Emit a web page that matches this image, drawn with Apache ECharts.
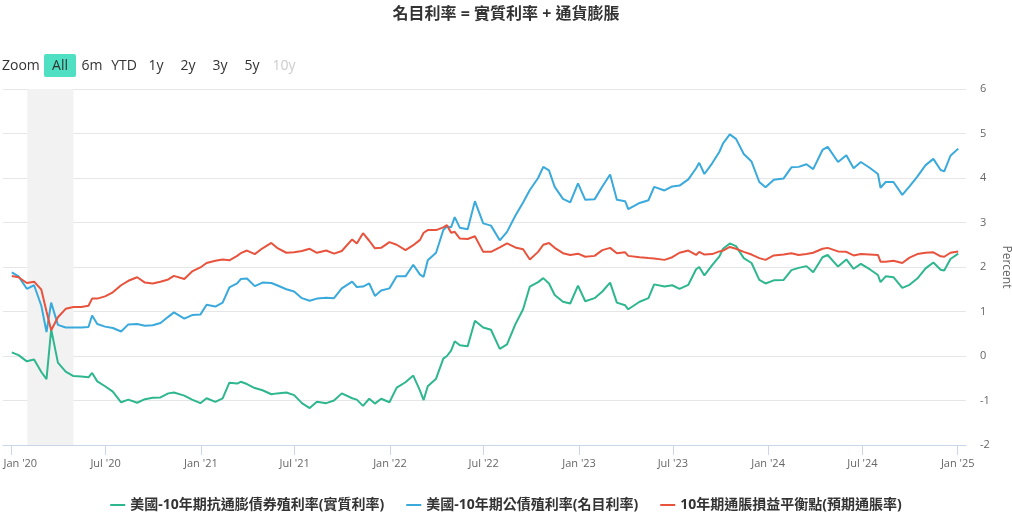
<!DOCTYPE html>
<html>
<head>
<meta charset="utf-8">
<script src="https://cdn.jsdelivr.net/npm/echarts@6/dist/echarts.min.js"></script>
<style>
html,body{margin:0;padding:0;background:#fff;}
#chart{width:1012px;height:519px;}
</style>
</head>
<body>
<div id="chart"></div>
<script>
// ---------- DATA ----------
const chartTitle = '名目利率 = 實質利率 + 通貨膨脹';
const seriesNames = ['美國-10年期抗通膨債券殖利率(實質利率)', '美國-10年期公債殖利率(名目利率)', '10年期通脹損益平衡點(預期通脹率)'];

const dates2020 = ['2020-01-02','2020-01-15','2020-01-31','2020-02-14','2020-02-28','2020-03-09','2020-03-18','2020-03-31','2020-04-15','2020-04-30','2020-05-15','2020-05-29','2020-06-05','2020-06-15','2020-06-30','2020-07-15','2020-07-31','2020-08-14','2020-08-31','2020-09-15','2020-09-30','2020-10-15','2020-10-30','2020-11-10','2020-11-30','2020-12-15','2020-12-31'];
const dates2021 = ['2021-01-12','2021-01-29','2021-02-12','2021-02-25','2021-03-12','2021-03-19','2021-03-31','2021-04-15','2021-04-30','2021-05-17','2021-05-28','2021-06-15','2021-06-30','2021-07-15','2021-07-30','2021-08-13','2021-08-31','2021-09-15','2021-09-30','2021-10-20','2021-10-29','2021-11-10','2021-11-22','2021-12-03','2021-12-15','2021-12-31'];
const dates2022 = ['2022-01-14','2022-01-31','2022-02-15','2022-02-28','2022-03-07','2022-03-15','2022-03-31','2022-04-14','2022-04-21','2022-04-29','2022-05-06','2022-05-16','2022-05-31','2022-06-14','2022-06-30','2022-07-15','2022-08-01','2022-08-15','2022-08-31','2022-09-15','2022-09-28','2022-10-14','2022-10-24','2022-11-04','2022-11-15','2022-12-01','2022-12-15','2022-12-30'];
const dates2023 = ['2023-01-13','2023-01-31','2023-02-15','2023-03-02','2023-03-15','2023-03-31','2023-04-06','2023-04-28','2023-05-15','2023-05-26','2023-06-15','2023-06-30','2023-07-14','2023-07-31','2023-08-15','2023-08-21','2023-08-31','2023-09-15','2023-09-29','2023-10-06','2023-10-19','2023-10-31','2023-11-15','2023-11-30','2023-12-15','2023-12-27'];
const dates2024 = ['2024-01-12','2024-01-31','2024-02-15','2024-02-29','2024-03-15','2024-03-28','2024-04-15','2024-04-25','2024-05-15','2024-05-31','2024-06-14','2024-06-28','2024-07-15','2024-07-31','2024-08-05','2024-08-15','2024-08-30','2024-09-16','2024-09-30','2024-10-15','2024-10-31','2024-11-15','2024-11-29','2024-12-06','2024-12-18','2025-01-02'];

// 實質利率 (10Y TIPS)
const real2020 = [0.08,0.02,-0.12,-0.08,-0.36,-0.52,0.60,-0.15,-0.35,-0.45,-0.46,-0.48,-0.38,-0.57,-0.68,-0.80,-1.04,-0.98,-1.05,-0.97,-0.94,-0.93,-0.84,-0.82,-0.89,-0.98,-1.06];
const real2021 = [-0.95,-1.03,-0.95,-0.60,-0.62,-0.58,-0.63,-0.72,-0.77,-0.86,-0.84,-0.82,-0.88,-1.06,-1.17,-1.03,-1.06,-1.00,-0.84,-0.95,-0.98,-1.12,-0.96,-1.07,-0.96,-1.04];
const real2022 = [-0.71,-0.59,-0.44,-0.78,-0.99,-0.68,-0.51,-0.06,0.00,0.12,0.33,0.24,0.22,0.79,0.64,0.59,0.16,0.26,0.71,1.05,1.56,1.66,1.75,1.63,1.37,1.22,1.18,1.58];
const real2023 = [1.23,1.30,1.45,1.65,1.20,1.14,1.05,1.22,1.30,1.61,1.56,1.59,1.51,1.60,1.95,2.00,1.81,2.04,2.24,2.41,2.53,2.47,2.20,2.09,1.71,1.63];
const real2024 = [1.70,1.71,1.93,1.98,2.02,1.88,2.22,2.27,2.01,2.17,1.96,2.07,1.95,1.82,1.66,1.79,1.77,1.53,1.60,1.74,1.97,2.10,1.94,1.92,2.18,2.30];

// 名目利率 (10Y Treasury)
const nominal2020 = [1.88,1.79,1.51,1.59,1.13,0.54,1.20,0.70,0.64,0.64,0.64,0.65,0.91,0.72,0.66,0.63,0.55,0.71,0.72,0.68,0.69,0.74,0.88,0.98,0.84,0.92,0.93];
const nominal2021 = [1.15,1.11,1.20,1.54,1.63,1.73,1.74,1.57,1.65,1.64,1.59,1.50,1.45,1.30,1.24,1.29,1.31,1.30,1.52,1.67,1.55,1.56,1.63,1.35,1.47,1.52];
const nominal2022 = [1.79,1.79,2.05,1.83,1.78,2.15,2.32,2.83,2.91,2.89,3.12,2.88,2.85,3.48,2.98,2.93,2.60,2.79,3.15,3.45,3.73,4.00,4.25,4.17,3.80,3.53,3.45,3.88];
const nominal2023 = [3.51,3.52,3.81,4.08,3.51,3.48,3.30,3.44,3.50,3.80,3.72,3.81,3.83,3.97,4.22,4.34,4.09,4.33,4.59,4.78,4.98,4.88,4.54,4.37,3.91,3.79];
const nominal2024 = [3.96,3.99,4.24,4.25,4.31,4.20,4.63,4.70,4.36,4.51,4.22,4.36,4.23,4.09,3.78,3.91,3.91,3.62,3.81,4.03,4.29,4.43,4.18,4.15,4.50,4.66];

// 預期通脹率 (10Y breakeven)
const be2020 = [1.80,1.77,1.64,1.67,1.49,1.00,0.58,0.87,1.06,1.10,1.10,1.13,1.29,1.29,1.34,1.43,1.59,1.69,1.77,1.65,1.63,1.67,1.72,1.80,1.73,1.90,1.99];
const be2021 = [2.09,2.14,2.17,2.15,2.25,2.31,2.37,2.29,2.42,2.54,2.43,2.32,2.33,2.36,2.41,2.32,2.37,2.30,2.36,2.62,2.53,2.76,2.59,2.42,2.43,2.56];
const be2022 = [2.50,2.38,2.49,2.61,2.77,2.83,2.83,2.89,2.94,2.77,2.79,2.64,2.63,2.69,2.34,2.34,2.44,2.53,2.44,2.40,2.17,2.34,2.50,2.54,2.43,2.31,2.27,2.30];
const be2023 = [2.23,2.25,2.38,2.43,2.31,2.33,2.25,2.22,2.20,2.19,2.16,2.22,2.32,2.37,2.27,2.34,2.28,2.29,2.35,2.37,2.45,2.41,2.34,2.28,2.20,2.16];
const be2024 = [2.26,2.28,2.31,2.27,2.29,2.32,2.41,2.43,2.35,2.34,2.26,2.29,2.28,2.27,2.12,2.12,2.14,2.09,2.21,2.29,2.32,2.33,2.24,2.23,2.32,2.35];

const xTickDates = ['2020-01-01','2020-07-01','2021-01-01','2021-07-01','2022-01-01','2022-07-01','2023-01-01','2023-07-01','2024-01-01','2024-07-01','2025-01-01'];
const xTickLabels = ["Jan '20","Jul '20","Jan '21","Jul '21","Jan '22","Jul '22","Jan '23","Jul '23","Jan '24","Jul '24","Jan '25"];
const yTicks = [-2,-1,0,1,2,3,4,5,6];
const recessionBand = ['2020-02-01','2020-04-30'];
const rangeButtons = ['All','6m','YTD','1y','2y','3y','5y','10y'];
const zoomLabel = 'Zoom';
const yAxisTitle = 'Percent';

// ---------- BUILD ----------
const dates = [].concat(dates2020, dates2021, dates2022, dates2023, dates2024);
const realRate = [].concat(real2020, real2021, real2022, real2023, real2024);
const nominalRate = [].concat(nominal2020, nominal2021, nominal2022, nominal2023, nominal2024);
const breakeven = [].concat(be2020, be2021, be2022, be2023, be2024);

function parseDay(s){ const p = s.split('-').map(Number); return Date.UTC(p[0], p[1]-1, p[2]); }
const pair = arr => dates.map((d,i) => [parseDay(d), arr[i]]);
const tickVals = xTickDates.map(parseDay);
const labelMap = {};
tickVals.forEach((v,i)=>{ labelMap[v] = xTickLabels[i]; });

const FONT = '"Open Sans", "Noto Sans CJK TC", sans-serif';
const colors = ['#2eb78f', '#3aa9db', '#e8533d'];

const chart = echarts.init(document.getElementById('chart'), null, {renderer:'canvas'});

const btnGraphics = [];
btnGraphics.push({type:'text', x:2, y:66, style:{text:zoomLabel, font:'14px ' + FONT, fill:'#333', align:'left', verticalAlign:'middle'}});
btnGraphics.push({type:'rect', shape:{x:44, y:54, width:32, height:23, r:2}, style:{fill:'#4fe0c3'}});
rangeButtons.forEach((b,i)=>{
  btnGraphics.push({type:'text', x:60 + i*32, y:66, style:{text:b, font:'14px ' + FONT, fill: i===rangeButtons.length-1 ? '#cccccc' : '#333', align:'center', verticalAlign:'middle'}});
});

const option = {
  animation: false,
  backgroundColor: '#fff',
  title: {
    text: chartTitle, left: 'center', top: 1,
    textStyle: {fontSize: 16, fontWeight: 'bold', color: '#333', fontFamily: FONT}
  },
  legend: {
    data: seriesNames,
    left: 'center', top: 493,
    icon: 'rect', itemWidth: 15, itemHeight: 2, itemGap: 22,
    textStyle: {fontSize: 14, fontWeight: 'bold', color: '#333', fontFamily: FONT}
  },
  grid: {left: 3, right: 46, top: 89, bottom: 74, containLabel: false, outerBoundsMode: 'none'},
  xAxis: {
    type: 'value',
    min: parseDay('2019-12-16'),
    max: parseDay('2025-01-17'),
    axisLine: {show: true, onZero: false, lineStyle: {color: '#ccd6eb', width: 1}},
    axisTick: {show: true, length: 10, lineStyle: {color: '#ccd6eb'}, customValues: tickVals},
    axisLabel: {
      customValues: tickVals,
      color: '#666', fontSize: 11, fontFamily: FONT, margin: 13,
      formatter: function(v){
        const t = labelMap[v] || '';
        return v === tickVals[0] ? '{first|' + t + '}' : t;
      },
      rich: {first: {padding: [0,0,0,18], color:'#666', fontSize:11, fontFamily: FONT}}
    },
    splitLine: {show: false}
  },
  yAxis: {
    type: 'value', position: 'right',
    min: yTicks[0], max: yTicks[yTicks.length-1], interval: 1,
    name: yAxisTitle, nameLocation: 'middle', nameRotate: -90, nameGap: 31,
    nameTextStyle: {color: '#666', fontSize: 12, fontFamily: FONT},
    axisLine: {show: false}, axisTick: {show: false},
    axisLabel: {color: '#666', fontSize: 11, fontFamily: FONT, margin: 14, align: 'left'},
    splitLine: {lineStyle: {color: '#e6e6e6', width: 1}}
  },
  graphic: btnGraphics,
  series: [
    {
      name: 'band', type: 'line', data: [], z: 0, silent: true,
      markArea: {silent: true, itemStyle: {color: '#f2f2f2'}, data: [[{xAxis: parseDay(recessionBand[0])}, {xAxis: parseDay(recessionBand[1])}]]}
    },
    {name: seriesNames[0], type: 'line', data: pair(realRate), showSymbol: false, symbol: 'none', color: colors[0], lineStyle: {width: 2, color: colors[0]}, z: 2},
    {name: seriesNames[1], type: 'line', data: pair(nominalRate), showSymbol: false, symbol: 'none', color: colors[1], lineStyle: {width: 2, color: colors[1]}, z: 2},
    {name: seriesNames[2], type: 'line', data: pair(breakeven), showSymbol: false, symbol: 'none', color: colors[2], lineStyle: {width: 2, color: colors[2]}, z: 2}
  ]
};
chart.setOption(option);
</script>
</body>
</html>
